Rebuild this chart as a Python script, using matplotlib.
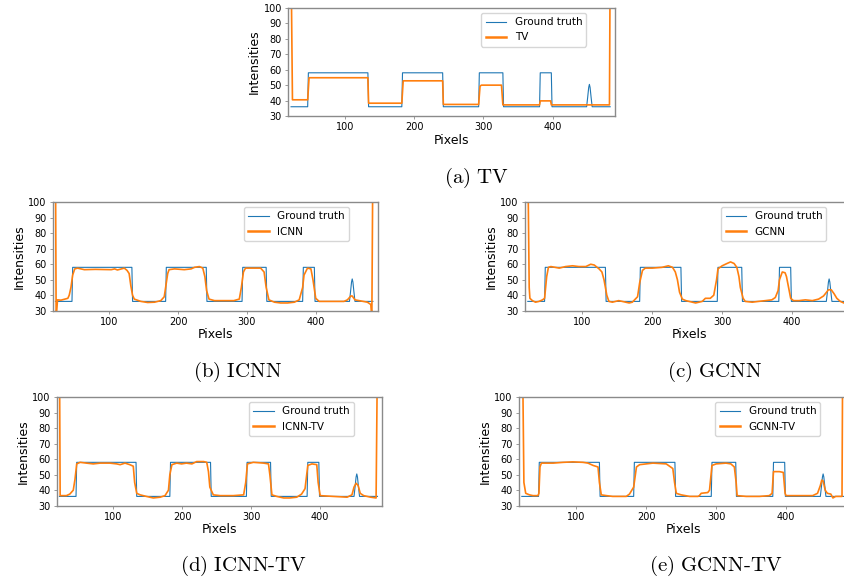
import matplotlib
matplotlib.use("Agg")
import matplotlib.pyplot as plt

plt.rcParams['mathtext.fontset'] = 'cm'

# ---------------- data ----------------
gt_x = [22, 46, 47, 133, 134, 182, 183, 241, 242, 293, 294, 328, 329, 381, 382,
        398, 399, 449, 450.5, 452, 453, 454, 455.5, 457, 483]
gt_y = [36, 36, 58, 58, 36, 36, 58, 58, 36, 36, 58, 58, 36, 36, 58,
        58, 36, 36, 42, 48.5, 50.5, 48.5, 42, 36, 36]

tv_x = [22, 24, 46, 48, 133, 134, 182, 184, 241, 242, 293, 295, 297, 326, 328,
        381, 382, 397, 398, 482, 483]
tv_y = [130, 40.5, 40.5, 54.8, 54.8, 38.3, 38.3, 52.8, 52.8, 37.5, 37.5, 49.3, 50, 50, 37.2,
        37.2, 39.8, 39.8, 37.2, 37.2, 130]

icnn_x = [22, 23, 25, 30, 40, 42, 44.5, 47, 50, 54, 64, 80, 103, 108, 112, 122, 126, 129,
          131.5, 134, 136.5, 146, 156, 166, 175, 180, 182, 185, 187, 195, 209, 219, 224,
          231, 236, 239, 241.5, 245, 253, 281, 289, 292, 295, 298, 320, 325, 328, 332,
          340, 349, 359, 369, 376, 381, 383, 388, 393, 396, 400, 405, 427, 441, 446, 451,
          453, 457, 463, 475, 480, 481.5, 483]
icnn_y = [130, 25, 37, 36.8, 38, 40, 45, 53, 57, 57.5, 56.5, 56.7, 56.5, 57, 56.3, 57.5, 56, 54,
          46, 40, 37.5, 36, 35.3, 35.5, 36.5, 39, 45, 54, 56.5, 57, 56.5, 57, 58,
          58.5, 57.5, 52, 43, 37.5, 36.5, 36.5, 37.5, 45, 55, 57.5, 57.5, 55, 45, 37,
          35.5, 35, 35, 35.5, 37, 45, 53, 57.5, 57, 50, 38, 36, 36, 36, 37, 39.5,
          39.5, 37, 36.5, 35.5, 34, 25, 130]

gcnn_x = [22, 24, 25, 28.6, 33, 38, 43, 46, 49, 51.5, 55, 67, 76, 86, 95, 105, 112, 117,
          124, 128, 131, 135, 138, 143, 152, 159, 167, 171.5, 179, 182, 186, 190, 200,
          214, 223, 229, 233, 236, 239, 243, 248, 262, 271.5, 276, 283, 288, 292, 294,
          300, 307, 312, 317, 321, 324, 326, 330, 333, 343, 352, 362, 371, 376, 380, 382,
          386, 390, 392, 395, 398, 402, 410, 419, 429, 438, 445, 452, 456, 460, 464, 469,
          474, 480, 483]
gcnn_y = [130, 45, 38, 36.5, 35.5, 36, 37, 38, 52, 58, 58.5, 57.5, 58.5, 59, 58.5, 58.5, 60, 59.5,
          57, 55, 50, 40, 36, 35.5, 36.5, 35.8, 35, 35.5, 39, 48, 56, 57.5, 57.5,
          58, 59, 58, 55, 50, 42, 37.5, 36.5, 35, 36, 38, 38, 40, 50, 57,
          59, 60.5, 61.5, 60.5, 58, 52, 45, 38, 36, 35.5, 36, 36.5, 37, 38.5, 43, 50,
          55, 54.5, 52, 45, 38, 36.5, 36.5, 37, 36.5, 37.5, 39.5, 43.5, 43.5, 41, 38, 36,
          35, 34.5, 34.5]

icnntv_x = [22, 23, 27, 32, 37, 42, 44.5, 47, 52, 61, 71, 81, 95, 105, 110, 117, 124, 129,
            131, 134, 139, 148, 158, 168, 175, 180, 182, 185, 192, 199, 206, 214, 221, 231,
            235.5, 238, 240, 245, 255, 274, 289, 292, 294.5, 303, 318, 325, 327, 330, 337,
            347, 356, 366, 373, 378, 382, 388, 395, 397, 400, 419, 439, 446, 449, 452, 455,
            458, 463, 473, 481, 483]
icnntv_y = [130, 36.5, 36.5, 36.5, 37.5, 40, 47, 57, 58, 57.5, 57, 57.5, 57.5, 57, 56.5, 57.5, 56.5, 55.5,
            45, 38, 37, 36, 35, 35.5, 36.5, 40, 50, 56.5, 57.5, 57, 57.5, 57, 58.5, 58.5,
            58, 52, 42, 37, 36.5, 36.5, 37, 45, 57, 58, 57.5, 57, 50, 37, 36,
            35, 35, 35.5, 37.5, 41, 56, 57, 56.5, 45, 36.5, 36, 35.5, 37, 42, 44.5, 43,
            38, 36.5, 35.5, 35, 130]

gcnntv_x = [23, 25, 27.6, 33, 38, 45, 46.5, 48, 50, 67, 81, 95, 109.5, 116.7, 124, 131, 133,
            135.7, 143, 152, 162, 171.4, 176, 182, 186, 190.5, 209.5, 228.6, 238, 240.5, 243,
            250, 262, 274, 276, 278.6, 288, 290.5, 294, 300, 314, 321, 326, 328.6, 330, 343,
            362, 376, 380, 382, 390.5, 396, 398.6, 400, 419, 438, 445, 449, 451, 453, 456,
            459, 464, 467, 471, 480, 481]
gcnntv_y = [130, 45, 38, 37, 36.5, 36.5, 38, 55, 57.5, 57.5, 58, 58.3, 58, 57.5, 56, 55, 45,
            37, 36.5, 36, 36, 36, 37.5, 42, 55, 56.5, 57.5, 57, 54, 45, 38,
            37, 36, 36, 36.5, 38, 38.5, 40, 56, 57, 57.5, 57, 55, 45, 36.5, 36,
            36, 36.5, 38, 52, 52, 51.5, 38, 36.5, 36.5, 36.5, 38, 43, 46.5, 46, 40,
            38, 37.5, 35, 36, 36, 130]

panels = [
    ("TV", tv_x, tv_y, r"$\mathrm{(a)\ TV}$"),
    ("ICNN", icnn_x, icnn_y, r"$\mathrm{(b)\ ICNN}$"),
    ("GCNN", gcnn_x, gcnn_y, r"$\mathrm{(c)\ GCNN}$"),
    ("ICNN-TV", icnntv_x, icnntv_y, r"$\mathrm{(d)\ ICNN\text{-}TV}$"),
    ("GCNN-TV", gcnntv_x, gcnntv_y, r"$\mathrm{(e)\ GCNN\text{-}TV}$"),
]

x_ticks = [100, 200, 300, 400]
y_ticks = [30, 40, 50, 60, 70, 80, 90, 100]

# ---------------- layout (pixels) ----------------
W, H = 845, 582
fig = plt.figure(figsize=(W / 100, H / 100), dpi=100)

# left, top, width, height in pixels
boxes = [
    (288.3, 8, 326.7, 108),
    (52.7, 202.3, 325, 108.4),
    (525, 202.3, 330, 108.4),
    (56.7, 397.3, 325.6, 108.4),
    (519, 397.3, 330, 108.4),
]
captions = [(476, 178), (237.5, 372), (714.5, 372), (243, 566), (715.5, 566)]

spine_col = '#8a8a8a'
for (name, xs, ys, cap), (l, t, w, h), (cx, cy) in zip(panels, boxes, captions):
    ax = fig.add_axes([l / W, 1 - (t + h) / H, w / W, h / H])
    ax.plot(gt_x, gt_y, color='#1f77b4', lw=0.8, label='Ground truth')
    ax.plot(xs, ys, color='#ff7f0e', lw=1.2, label=name)
    ax.set_xlim(18, 490)
    ax.set_ylim(30, 100)
    ax.set_xticks(x_ticks)
    ax.set_yticks(y_ticks)
    ax.tick_params(labelsize=7, length=2.5, width=0.6, color=spine_col, pad=2)
    for s in ax.spines.values():
        s.set_color(spine_col)
        s.set_linewidth(1.0)
    ax.set_xlabel('Pixels', fontsize=9, labelpad=1)
    ax.set_ylabel('Intensities', fontsize=9, labelpad=2)
    leg = ax.legend(loc='upper right', bbox_to_anchor=(1 - 28.5 / w, 1 - 5 / h),
                    borderaxespad=0, fontsize=7.5, handlelength=2.0,
                    handletextpad=0.8, borderpad=0.4, labelspacing=0.5)
    leg.get_lines()[1].set_linewidth(1.8)
    fig.text(cx / W, 1 - cy / H, cap, ha='center', va='center', fontsize=15)

fig.savefig('out.png', dpi=100)
